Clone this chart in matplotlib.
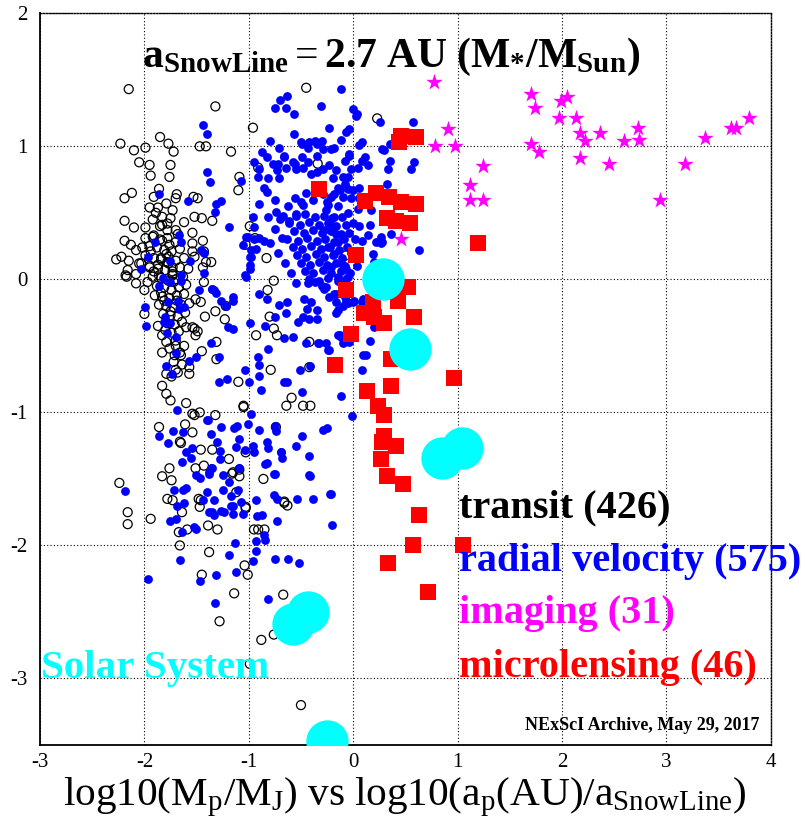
import numpy as np
import matplotlib
matplotlib.use("Agg")
import matplotlib.pyplot as plt

plt.rcParams["font.family"] = ["Liberation Serif", "DejaVu Serif"]
plt.rcParams["mathtext.fontset"] = "custom"
plt.rcParams["mathtext.rm"] = "Liberation Serif"
plt.rcParams["mathtext.it"] = "Liberation Serif:italic"
plt.rcParams["mathtext.bf"] = "Liberation Serif:bold"
plt.rcParams["axes.unicode_minus"] = False

# -----------------------------------------------
# DATA: (log10(a/a_snow), log10(Mp/MJ)) per detection method
# -----------------------------------------------
transit = np.array([
    (-2.15, 1.43), (-1.32, 1.30), (-0.96, 1.14), (-0.45, 1.44), (0.23, 1.21),
    (-2.23, 1.02), (-2.10, 0.97), (-1.99, 0.99), (-1.85, 1.07), (-1.77, 1.02), (-1.72, 0.96),
    (-1.47, 1.00), (-1.41, 1.00), (-1.17, 0.96), (-2.05, 0.88), (-1.95, 0.86), (-1.75, 0.86),
    (-1.94, 0.78), (-1.76, 0.77), (-1.09, 0.77), (-1.10, 0.67), (-0.91, 0.84), (-0.34, 0.87),
    (-2.12, 0.65), (-2.19, 0.61), (-1.86, 0.68), (-1.91, 0.62), (-1.69, 0.64), (-1.70, 0.61),
    (-1.53, 0.62), (-1.49, 0.61), (-1.95, 0.54), (-1.87, 0.54), (-1.79, 0.57), (-1.73, 0.52),
    (-1.89, 0.50), (-1.83, 0.47), (-1.75, 0.46), (-1.52, 0.47), (-1.45, 0.46), (-1.62, 0.43),
    (-1.35, 0.44), (-2.19, 0.44), (-0.99, 0.40), (-2.10, 0.39), (-1.99, 0.39), (-1.83, 0.41),
    (-1.78, 0.37), (-1.54, 0.35), (-2.19, 0.29), (-1.68, 0.34), (-1.44, 0.29), (-1.54, 0.27),
    (-2.13, 0.26), (-2.08, 0.22), (-1.99, 0.31), (-1.91, 0.33), (-1.83, 0.29), (-1.76, 0.26),
    (-2.02, 0.24), (-1.94, 0.21), (-1.79, 0.19), (-1.54, 0.21), (-1.43, 0.21),
    (-1.03, 0.26), (-0.94, 0.31), (-0.83, 0.16),
    (-2.27, 0.15), (-2.22, 0.17), (-2.15, 0.14), (-1.84, 0.16), (-1.78, 0.13), (-2.05, 0.12),
    (-1.95, 0.09), (-1.87, 0.11), (-1.73, 0.09), (-1.52, 0.17), (-1.41, 0.13), (-1.36, 0.13),
    (-2.16, 0.07), (-2.08, 0.04), (-1.91, 0.06), (-1.86, 0.03), (-1.73, 0.04), (-1.44, 0.09),
    (-2.18, 0.03),
    # dense hot-Jupiter clump
    (-1.92, 0.32), (-1.85, 0.30), (-1.78, 0.31), (-1.70, 0.28), (-1.95, 0.25), (-1.88, 0.24),
    (-1.81, 0.22), (-1.74, 0.21), (-1.66, 0.23), (-1.99, 0.18), (-1.91, 0.16), (-1.84, 0.15),
    (-1.77, 0.17), (-1.70, 0.14), (-1.62, 0.16), (-1.95, 0.10), (-1.87, 0.08), (-1.80, 0.07),
    (-1.73, 0.06), (-1.66, 0.09), (-1.92, 0.02), (-1.84, 0.01), (-1.77, -0.01), (-1.70, 0.00),
    (-1.63, 0.02), (-1.88, -0.05), (-1.81, -0.06), (-1.74, -0.08), (-1.67, -0.06), (-1.60, -0.04),
    (-1.90, -0.12), (-1.83, -0.13), (-1.76, -0.14), (-1.69, -0.12), (-1.62, -0.11), (-1.86, -0.19),
    (-1.79, -0.20), (-1.72, -0.21), (-1.65, -0.19), (-1.82, -0.26), (-1.75, -0.27), (-1.68, -0.28),
    (-1.61, -0.25), (-1.78, -0.33), (-1.71, -0.34), (-1.64, -0.32), (-1.74, -0.40), (-1.67, -0.39),
    (-1.80, -0.38), (-1.70, -0.46), (-1.76, -0.52), (-1.66, -0.55), (-1.72, -0.62), (-1.64, -0.64),
    (-1.68, -0.70), (-1.85, 0.40), (-1.78, 0.42), (-1.92, 0.45), (-1.70, 0.37), (-1.97, -0.02),
    (-2.03, 0.12), (-1.58, 0.08), (-1.57, -0.18), (-1.72, -0.02), (-1.84, -0.10), (-1.77, 0.12),
    (-1.81, -0.16), (-1.69, -0.16), (-1.75, -0.24), (-1.73, 0.03),
    # below the clump
    (-2.17, 0.02), (-2.08, -0.03), (-2.00, -0.08), (-1.51, -0.15), (-1.46, -0.17), (-1.43, -0.02),
    (-1.32, -0.24), (-1.42, -0.28), (-1.23, -0.30), (-1.22, -0.20), (-2.00, -0.26), (-1.87, -0.35),
    (-1.60, -0.36), (-1.52, -0.37), (-1.51, -0.42), (-1.83, -0.42), (-1.79, -0.47), (-1.70, -0.50),
    (-1.62, -0.50), (-1.31, -0.47), (-1.45, -0.54), (-1.83, -0.55), (-1.71, -0.57), (-1.65, -0.57),
    (-1.57, -0.66), (-1.31, -0.60), (-1.57, -0.71), (-1.70, -0.68), (-1.79, -0.71), (-1.74, -0.73),
    (-1.10, -0.77), (-1.83, -0.80), (-1.79, -0.86), (-1.75, -0.91), (-1.60, -0.93), (-1.54, -1.01),
    (-1.47, -1.00), (-1.52, -1.02), (-1.32, -1.02), (-1.05, -0.96), (-1.86, -1.11), (-1.61, -1.09),
    (-1.54, -1.15), (-1.66, -1.22), (-1.46, -1.28), (-1.35, -1.28), (-1.19, -1.35), (-1.76, -1.42),
    (-1.51, -1.42), (-1.43, -1.40), (-1.83, -1.48), (-1.74, -1.51), (-1.16, -1.46), (-1.09, -1.48),
    (-2.24, -1.53), (-1.54, -0.36), (-1.49, -0.39), (-1.65, -1.23),
    (-0.82, -0.08), (-0.76, -0.01), (-0.80, -0.28), (-0.76, -0.37), (-0.73, -0.42), (-0.93, -0.42),
    (-0.79, -0.68), (-0.42, -0.47), (-0.42, -0.66), (-0.59, -0.89), (-0.64, -0.95), (-0.48, -0.95),
    (-0.41, -0.95), (-1.05, -0.95), (-0.74, -1.11), (-1.03, -1.30), (-1.15, -1.45), (-0.07, 0.18),
    # small planets
    (-1.78, -1.65), (-1.73, -1.66), (-1.46, -1.66), (-1.48, -1.65), (-1.12, -1.60), (-1.03, -1.72),
    (-0.86, -1.50), (-1.09, -1.43), (-0.66, -1.67), (-0.63, -1.70),
    (-2.16, -1.75), (-2.16, -1.84), (-1.94, -1.80), (-1.64, -1.75), (-1.67, -1.90), (-1.59, -1.88),
    (-1.66, -2.00), (-1.39, -1.85), (-1.30, -1.88), (-1.47, -1.71), (-1.38, -2.05), (-1.03, -1.71),
    (-0.95, -1.88), (-0.91, -1.88), (-0.85, -1.88), (-1.04, -2.15), (-1.01, -2.22), (-1.45, -2.22),
    (-1.14, -2.36), (-1.28, -2.57), (-0.88, -2.71), (-0.76, -2.67), (-0.67, -2.37), (-0.99, -2.89),
    (-0.50, -3.20), (-0.66, -1.68),
])

radial_velocity = np.array([
    (-0.12, 1.43), (-0.63, 1.38), (-0.70, 1.35), (-0.75, 1.29), (-0.64, 1.29), (-0.31, 1.30),
    (-0.57, 1.24), (0.00, 1.28), (0.04, 1.24), (-1.44, 1.16), (-1.40, 1.09), (-0.23, 1.14),
    (-0.04, 1.13), (-0.07, 1.11), (-0.57, 1.09), (-0.80, 1.04), (-0.71, 0.99), (-0.50, 1.03),
    (-0.43, 0.99), (-0.37, 1.04), (-0.30, 1.04), (-0.29, 0.98), (-0.35, 0.93), (-0.18, 0.99),
    (-0.12, 1.05), (0.08, 1.03), (0.06, 1.01), (0.26, 1.18), (0.57, 1.18), (0.35, 1.02),
    (0.28, 0.98), (0.35, 0.89), (0.33, 0.83), (0.58, 0.88), (0.55, 0.83), (0.32, 0.72),
    (0.63, 0.22), (0.36, 0.34), (0.28, 0.28), (0.03, 1.23), (0.30, 0.97), (0.14, 0.86), (0.11, 0.92),
    (-0.87, 0.96), (-0.83, 0.92), (-0.77, 0.87), (-0.95, 0.88), (-0.90, 0.83), (-0.66, 0.93),
    (-0.72, 0.87), (-0.64, 0.84), (-0.56, 0.87), (-0.48, 0.84), (-0.40, 0.79), (-1.40, 0.81),
    (-1.37, 0.73), (-1.07, 0.74), (-1.58, 0.59), (-1.31, 0.57), (-1.27, 0.59), (-1.32, 0.51),
    (-1.19, 0.39), (-1.86, 0.64), (-1.90, 0.28), (-1.65, 0.28), (-1.67, 0.33), (-1.46, 0.22),
    (-1.56, 0.14), (-1.97, 0.17), (-1.75, 0.14), (-2.03, 0.08), (-1.04, 0.03), (-0.99, 0.17),
    (-0.93, 0.23), (-1.03, 0.32), (-1.43, 0.05), (-1.65, 0.03),
    (-0.49, 1.02), (-0.42, 1.03), (-0.35, 1.02), (-0.21, 0.98), (-0.66, 0.92), (-0.58, 0.88),
    (-0.55, 0.83), (-0.73, 0.82), (-0.71, 0.76), (-0.91, 0.77), (-0.82, 0.76), (-0.85, 0.69),
    (-0.83, 0.66), (-0.49, 0.92), (-0.43, 0.88), (-0.35, 0.81), (-0.29, 0.83), (-0.23, 0.86),
    (-0.16, 0.82), (-0.08, 0.89), (-0.04, 0.93), (-0.02, 0.83), (0.05, 0.84), (0.08, 0.89),
    (-0.19, 0.76), (-0.15, 0.69), (-0.08, 0.72), (-0.05, 0.77), (0.00, 0.67), (0.06, 0.69),
    (0.06, 0.61), (-0.02, 0.61),
    (-1.06, 0.26), (-1.01, 0.32), (-0.95, 0.30), (-0.98, 0.17), (-0.99, 0.11), (-1.43, 0.20),
    (-0.90, 0.57), (-0.75, 0.60), (-0.56, 0.61), (-0.48, 0.56), (-0.24, 0.56), (-0.21, 0.62),
    (-0.13, 0.67), (-0.29, 0.64), (-0.82, 0.47), (-0.74, 0.51), (-0.67, 0.48), (-0.61, 0.44),
    (-0.55, 0.49), (-0.96, 0.47), (-0.95, 0.39), (-0.85, 0.29), (-0.90, 0.31), (-0.98, 0.22),
    (-0.04, 0.94), (-0.10, 0.77), (-0.18, 0.64), (-0.05, 0.68), (0.05, 0.53), (0.17, 0.52),
    (0.16, 0.41), (0.27, 0.27), (0.22, 0.28), (0.27, 0.32), (0.14, 0.33), (0.08, 0.29),
    (0.19, 0.19), (0.20, 0.13),
    (-0.26, 0.52), (-0.18, 0.47), (-0.21, 0.41), (-0.28, 0.37), (-0.16, 0.34), (-0.15, 0.28),
    (-0.24, 0.24), (-0.18, 0.19), (-0.12, 0.12), (-0.07, 0.08), (-0.21, 0.09), (-0.15, 0.02),
    (-0.05, 0.02), (-0.26, -0.06), (-0.18, -0.11), (-0.08, -0.13), (-0.16, -0.17), (0.01, -0.16),
    (0.09, -0.15),
    # crowded warm-Jupiter region
    (-0.55, 0.48), (-0.46, 0.49), (-0.37, 0.47), (-0.28, 0.48), (-0.20, 0.46), (-0.11, 0.47),
    (-0.61, 0.42), (-0.51, 0.41), (-0.42, 0.43), (-0.33, 0.41), (-0.24, 0.42), (-0.16, 0.40),
    (-0.07, 0.41), (-0.57, 0.36), (-0.47, 0.35), (-0.38, 0.37), (-0.30, 0.35), (-0.21, 0.36),
    (-0.12, 0.34), (-0.04, 0.35), (-0.63, 0.30), (-0.53, 0.29), (-0.44, 0.31), (-0.35, 0.29),
    (-0.27, 0.30), (-0.18, 0.28), (-0.09, 0.30), (-0.58, 0.24), (-0.49, 0.23), (-0.40, 0.25),
    (-0.31, 0.23), (-0.22, 0.24), (-0.14, 0.22), (-0.06, 0.24), (-0.54, 0.18), (-0.45, 0.17),
    (-0.36, 0.19), (-0.28, 0.17), (-0.19, 0.18), (-0.11, 0.16), (-0.50, 0.12), (-0.41, 0.11),
    (-0.33, 0.13), (-0.25, 0.11), (-0.16, 0.12), (-0.08, 0.10), (-0.46, 0.06), (-0.38, 0.05),
    (-0.29, 0.07), (-0.21, 0.05), (-0.12, 0.06), (-0.03, 0.05), (-0.42, 0.00), (-0.33, -0.01),
    (-0.24, 0.01), (-0.15, -0.01), (-0.07, 0.00), (-0.70, 0.45), (-0.75, 0.38), (-0.68, 0.31),
    (-0.72, 0.20), (-0.65, 0.12), (-0.80, 0.27), (-0.62, 0.55), (-0.50, 0.58), (-0.38, 0.60),
    (-0.25, 0.58), (-0.15, 0.55), (-0.05, 0.50), (0.00, 0.42), (0.02, 0.30), (-0.02, 0.20),
    (0.04, 0.10), (-0.60, 0.05), (-0.55, -0.03), (0.06, 0.40), (-0.10, 0.62), (-0.30, 0.66),
    (-0.45, 0.65),
    # below Jupiter mass
    (-1.03, 0.02), (-1.35, -0.07), (-1.31, -0.10), (-1.27, -0.16), (-1.22, -0.20), (-1.15, -0.13),
    (-1.15, -0.16), (-1.20, -0.36), (-1.15, -0.37), (-0.99, -0.33), (-0.84, -0.35), (-0.90, -0.11),
    (-0.83, -0.15), (-0.71, -0.19), (-0.63, -0.17), (-0.64, -0.25), (-0.75, -0.28), (-0.47, -0.15),
    (-0.44, -0.22), (-0.40, -0.17), (-0.35, -0.23), (-0.53, -0.32), (-0.48, -0.28), (-0.42, -0.30),
    (-0.35, -0.30), (-0.43, -0.03), (-0.37, -0.02), (-0.30, -0.05), (-0.28, -0.07), (-0.23, -0.13),
    (-0.16, -0.11), (-0.15, -0.23), (-0.10, -0.20), (-0.07, -0.16), (0.00, -0.17), (0.08, -0.17),
    (-0.66, -0.44), (-0.58, -0.43), (-0.45, -0.48), (-0.33, -0.48), (-0.26, -0.48), (-0.23, -0.53),
    (-0.12, -0.43), (-1.36, -0.48), (-0.82, -0.52), (-0.91, -0.58), (-0.90, -0.64), (-1.29, -0.58),
    (-1.04, -0.68), (-0.90, -0.73), (-0.51, -0.68), (-0.41, -0.65), (0.08, -0.68), (0.09, -0.57),
    (-1.29, -0.77), (-1.21, -0.75), (-1.00, -0.77), (-0.88, -0.83), (-0.66, -0.77), (-0.63, -0.77),
    (-0.49, -0.85), (-0.12, -0.88), (-0.98, -1.01), (-0.01, -1.03),
    (-1.39, -1.06), (-1.27, -1.11), (-1.36, -1.16), (-1.14, -1.12), (-1.11, -1.10), (-1.01, -1.09),
    (-0.90, -1.13), (-0.75, -1.10), (-0.74, -1.14), (-0.29, -1.13), (-0.25, -1.12), (-0.49, -1.18),
    (-1.09, -1.20), (-1.12, -1.26), (-1.04, -1.28), (-1.30, -1.22), (-1.28, -1.29), (-1.28, -1.35),
    (-0.96, -1.25), (-0.95, -1.30), (-0.83, -1.22), (-0.82, -1.27), (-0.69, -1.30), (-0.68, -1.34),
    (-0.55, -1.25), (-0.42, -1.33), (-0.84, -1.39), (-1.09, -1.42), (-1.35, -1.42), (-1.38, -1.45),
    (-0.76, -1.46), (-0.42, -1.47),
    (-1.82, 0.01), (-1.75, -0.02), (-1.65, -0.01), (-1.86, -0.05), (-1.99, -0.21), (-1.77, -0.17),
    (-1.68, -0.16), (-1.62, -0.21), (-1.67, -0.22), (-1.80, -0.28), (-1.78, -0.32), (-1.75, -0.33),
    (-1.81, -0.32), (-1.98, -0.35), (-1.78, -0.40), (-1.70, -0.43), (-1.70, -0.55), (-1.79, -0.65),
    (-1.74, -0.71), (-1.48, -0.08), (-1.35, -0.07), (-1.33, -0.08), (-1.57, -0.61), (-1.51, -0.58),
    (-1.69, -0.98), (-1.40, -1.06), (-1.86, -1.18), (-1.73, -1.14), (-1.63, -1.15), (-1.77, -1.23),
    (-1.60, -1.30), (-1.54, -1.27), (-1.55, -1.34), (-1.64, -1.37), (-1.36, -1.42), (-1.38, -1.46),
    (-1.51, -1.47), (-1.47, -1.49), (-1.25, -1.47), (-1.19, -1.52), (-1.09, -1.42),
    (-2.19, -1.59), (-1.72, -1.58), (-1.63, -1.58), (-1.60, -1.57), (-1.69, -1.70), (-1.62, -1.68),
    (-1.40, -1.60), (-1.44, -1.66), (-1.33, -1.66), (-1.25, -1.58), (-1.17, -1.63), (-1.15, -1.70),
    (-1.07, -1.67), (-1.10, -1.58), (-1.35, -1.75), (-1.27, -1.74), (-0.93, -1.66), (-0.76, -1.62),
    (-0.73, -1.65), (-0.54, -1.65), (-0.38, -1.65), (-0.21, -1.61), (-0.83, -1.38), (-0.75, -1.46),
    (-0.69, -1.30), (-0.41, -1.48),
    (-1.75, -1.82), (-1.70, -1.80), (-1.64, -1.90), (-1.51, -1.88), (-1.52, -1.86), (-1.38, -1.75),
    (-1.33, -1.77), (-1.24, -1.75), (-1.17, -1.70), (-1.15, -1.76), (-1.06, -1.76), (-0.92, -1.78),
    (-0.87, -1.77), (-0.73, -1.82), (-1.13, -1.98), (-0.93, -1.97), (-0.85, -1.92), (-0.84, -1.96),
    (-0.93, -2.04), (-1.19, -2.07), (-1.66, -2.11), (-0.96, -2.12), (-0.75, -2.10), (-0.62, -2.10),
    (-0.52, -2.13), (-1.12, -2.20), (-1.31, -2.22), (-1.47, -2.27), (-1.97, -2.25), (-0.82, -2.40),
    (-1.32, -2.43), (-0.20, -1.85),
    (-0.99, 0.08), (-0.16, -0.25), (-0.10, -0.48), (-0.15, -0.42), (0.12, -0.57), (0.16, -0.46),
    (0.20, -0.36), (0.09, -0.16), (-0.05, -0.18), (-0.34, -0.48), (-0.24, -0.53), (-0.13, -0.42),
    (-0.04, -0.47), (-0.22, -1.61),
])

imaging = np.array([
    (0.77, 1.48), (1.70, 1.39), (1.74, 1.29), (1.99, 1.34), (2.05, 1.37), (1.97, 1.21),
    (2.13, 1.21), (0.91, 1.13), (0.78, 1.00), (0.98, 1.00), (2.17, 1.10), (2.22, 1.04),
    (2.36, 1.10), (2.59, 1.04), (2.73, 1.14), (2.74, 1.05), (1.70, 1.02), (1.78, 0.96),
    (2.17, 0.91), (2.45, 0.87), (3.18, 0.87), (3.37, 1.06), (3.62, 1.14), (3.67, 1.14),
    (3.79, 1.21), (1.24, 0.85), (1.12, 0.71), (1.12, 0.60), (1.24, 0.60), (2.94, 0.60),
    (0.46, 0.30),
])

microlensing = np.array([
    (0.46, 1.08), (0.60, 1.07), (0.44, 1.03), (-0.33, 0.68), (0.22, 0.65), (0.11, 0.59),
    (0.34, 0.62), (0.46, 0.58), (0.60, 0.57), (0.32, 0.46), (0.41, 0.44), (0.54, 0.42),
    (1.20, 0.27), (0.03, 0.18), (-0.07, -0.08), (0.53, -0.06), (0.19, -0.17), (0.43, -0.16),
    (0.10, -0.25), (0.20, -0.28), (0.30, -0.33), (-0.02, -0.41), (0.58, -0.28), (-0.17, -0.64),
    (0.36, -0.60), (0.36, -0.80), (0.97, -0.74), (0.13, -0.84), (0.24, -0.95), (0.30, -1.02),
    (0.30, -1.18), (0.28, -1.22), (0.41, -1.25), (0.27, -1.35), (0.32, -1.48), (0.48, -1.54),
    (0.63, -1.77), (0.57, -2.00), (1.05, -2.00), (0.33, -2.13), (0.72, -2.35),
])

# Jupiter, Saturn, Uranus, Neptune, Earth, Venus, Mars
solar_x = [0.285, 0.548, 0.852, 1.047, -0.431, -0.572, -0.248]
solar_y = [0.000, -0.524, -1.340, -1.268, -2.501, -2.592, -3.470]

method_labels = ["transit (426)", "radial velocity (575)", "imaging (31)", "microlensing (46)"]
method_colors = ["black", "#0000ff", "#ff00ff", "#ff0000"]

# -----------------------------------------------
# FIGURE
# -----------------------------------------------
fig = plt.figure(figsize=(8.05, 8.30), dpi=100)
ax = fig.add_axes([0.0497, 0.1024, 0.9077, 0.8816])

ax.scatter(transit[:, 0], transit[:, 1], s=42, facecolors="none",
           edgecolors="black", linewidths=0.9, zorder=2)
ax.scatter(radial_velocity[:, 0], radial_velocity[:, 1], s=40,
           color="#0000ff", linewidths=0, zorder=3)
ax.scatter(imaging[:, 0], imaging[:, 1], s=155, marker="*",
           color="#ff00ff", linewidths=0, zorder=4)
ax.scatter(microlensing[:, 0], microlensing[:, 1], s=140, marker="s",
           color="#ff0000", linewidths=0, zorder=5)
ax.scatter(solar_x, solar_y, s=930, color="#00ffff", linewidths=0, zorder=6)

ax.set_xlim(-3, 4)
ax.set_ylim(-3.5, 2)
ax.set_xticks(range(-3, 5))
ax.set_xticklabels([str(v) for v in range(-3, 5)])
ax.set_yticks(range(-3, 3))
ax.set_yticklabels([str(v) for v in range(-3, 3)])
ax.tick_params(length=0, labelsize=15, pad=6)
ax.tick_params(axis="y", pad=9)

ax.grid(True, color="black", linestyle=(0, (1, 2)), linewidth=0.8, zorder=0)
ax.set_axisbelow(True)
for side in ["left", "bottom"]:
    ax.spines[side].set_linewidth(1.3)
for side in ["top", "right"]:
    ax.spines[side].set_linestyle((0, (1, 1.2)))
    ax.spines[side].set_linewidth(1.0)

# title inside the plot
ax.text(0.36, 1.60,
        r"$\mathbf{a_{SnowLine}} = \mathbf{2.7\ AU\ (M_{*}/M_{Sun})}$",
        fontsize=30, ha="center", va="baseline", zorder=7)

# method legend as coloured text
legend_y = [-1.79, -2.19, -2.58, -2.99]
for label, color, yy in zip(method_labels, method_colors, legend_y):
    ax.text(1.015, yy, label, color=color, fontsize=29, fontweight="bold",
            ha="left", va="baseline", clip_on=False, zorder=7)

ax.text(-2.99, -3.0, "Solar System", color="#00ffff", fontsize=29.5,
        fontweight="bold", ha="left", va="baseline", zorder=7)
ax.text(3.89, -3.39, "NExScI Archive, May 29, 2017", fontsize=13,
        fontweight="bold", ha="right", va="baseline", zorder=7)

fig.text(0.503, 0.030,
         r"$\mathrm{log10(M_p/M_J)\ vs\ log10(a_p(AU)/a_{SnowLine})}$",
         fontsize=29.7, ha="center", va="baseline")

fig.savefig("out.png", dpi=100, facecolor="white")
